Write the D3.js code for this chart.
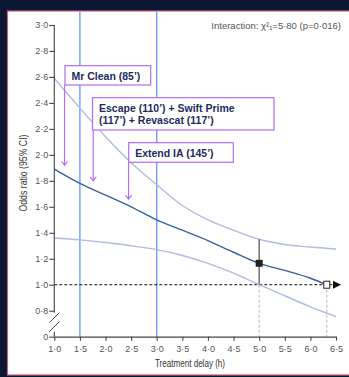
<!DOCTYPE html>
<html>
<head>
<meta charset="utf-8">
<script src="https://cdn.jsdelivr.net/npm/d3@7"></script>
<style>
  body { margin: 0; background: #0b1733; }
  svg { display: block; }
</style>
</head>
<body>
<div id="chart"></div>
<script>
// values
const delays = [1.0, 1.5, 2.0, 2.5, 3.0, 3.5, 4.0, 4.5, 5.0, 5.5, 6.0, 6.5];
const upperCI = [2.59, 2.36, 2.14, 1.94, 1.77, 1.61, 1.50, 1.42, 1.35, 1.31, 1.29, 1.275];
const lowerCI = [1.36, 1.345, 1.325, 1.30, 1.27, 1.225, 1.165, 1.09, 1.00, 0.915, 0.83, 0.755];
const oddsDelays = [1.0, 1.5, 2.0, 2.5, 3.0, 3.5, 4.0, 4.5, 5.0, 5.5, 6.0, 6.32];
const oddsRatio = [1.89, 1.78, 1.69, 1.60, 1.50, 1.42, 1.34, 1.25, 1.165, 1.11, 1.05, 1.0];

const xTicks = [1.0, 1.5, 2.0, 2.5, 3.0, 3.5, 4.0, 4.5, 5.0, 5.5, 6.0, 6.5];
const yTicks = [0, 0.8, 1.0, 1.2, 1.4, 1.6, 1.8, 2.0, 2.2, 2.4, 2.6, 2.8, 3.0];
const trialLines = [1.5, 3.0];

const annotations = [
    { lines: ['Mr Clean (85\u2019)'], t: 1.2, tip: 1.92 },
    { lines: ['Escape (110\u2019) + Swift Prime', '(117\u2019) + Revascat (117\u2019)'], t: 1.76, tip: 1.80 },
    { lines: ['Extend IA (145\u2019)'], t: 2.45, tip: 1.66 }
];
const marker = { t: 5.0, or: 1.165, lo: 1.0, hi: 1.35 };
const crossing = { t: 6.32, or: 1.0 };

const width = 349;
const height = 377;
const fmt = d => d === 0 ? '0' : d3.format('.1f')(d).replace('.', '\u00b7');

const svg = d3.select('#chart')
    .append('svg')
    .attr('width', width)
    .attr('height', height);

// panel
svg.append('rect')
    .attr('x', 7.5).attr('y', 11)
    .attr('width', width).attr('height', 364)
    .attr('fill', '#fff')
    .attr('stroke', '#d0607a')
    .attr('stroke-width', 1.2);

const x = d3.scaleLinear()
    .domain([1, 6.5])
    .range([54.3, 336]);

const y = d3.scaleLinear()
    .domain([0.8, 3.0])
    .range([310.7, 25]);

// axis scale with a break: 0 sits one step below 0.8
const yAxisScale = d3.scaleLinear()
    .domain([0, 0.8, 3.0])
    .range([y(0.6), y(0.8), y(3.0)]);

const axisFont = '"Liberation Sans", Arial, sans-serif';

// trial blue lines
svg.selectAll('.trial')
    .data(trialLines)
    .join('line')
    .attr('x1', d => x(d)).attr('x2', d => x(d))
    .attr('y1', 11.6).attr('y2', yAxisScale(0))
    .attr('stroke', '#5b8cff')
    .attr('stroke-width', 1.2);

// reference line at OR = 1
svg.append('line')
    .attr('x1', x(1)).attr('x2', x(6.5) - 2)
    .attr('y1', y(1)).attr('y2', y(1))
    .attr('stroke', '#111')
    .attr('stroke-width', 1)
    .attr('stroke-dasharray', '3,2');

svg.append('path')
    .attr('d', `M${x(6.5) - 3},${y(1) - 4} L${x(6.5) + 5},${y(1)} L${x(6.5) - 3},${y(1) + 4} Z`)
    .attr('fill', '#111');

// dashed drops to the axis
svg.selectAll('.drop')
    .data([marker.t, crossing.t])
    .join('line')
    .attr('x1', d => x(d)).attr('x2', d => x(d))
    .attr('y1', y(1)).attr('y2', yAxisScale(0))
    .attr('stroke', '#c4c4c4')
    .attr('stroke-width', 1.2)
    .attr('stroke-dasharray', '3,2');

const line = d3.line().curve(d3.curveMonotoneX);

svg.append('path')
    .attr('d', line(delays.map((d, i) => [x(d), y(upperCI[i])])))
    .attr('fill', 'none')
    .attr('stroke', '#aebbe2')
    .attr('stroke-width', 1.4);

svg.append('path')
    .attr('d', line(delays.map((d, i) => [x(d), y(lowerCI[i])])))
    .attr('fill', 'none')
    .attr('stroke', '#aebbe2')
    .attr('stroke-width', 1.4);

svg.append('path')
    .attr('d', line(oddsDelays.map((d, i) => [x(d), y(oddsRatio[i])])))
    .attr('fill', 'none')
    .attr('stroke', '#34609f')
    .attr('stroke-width', 1.4);

// error bar and squares
svg.append('line')
    .attr('x1', x(marker.t)).attr('x2', x(marker.t))
    .attr('y1', y(marker.hi)).attr('y2', y(marker.lo))
    .attr('stroke', '#7a7a7a')
    .attr('stroke-width', 1.6);

svg.append('rect')
    .attr('x', x(marker.t) - 3.5).attr('y', y(marker.or) - 3.5)
    .attr('width', 7).attr('height', 7)
    .attr('fill', '#222');

svg.append('rect')
    .attr('x', x(crossing.t) - 3).attr('y', y(crossing.or) - 3.5)
    .attr('width', 6).attr('height', 7)
    .attr('fill', '#fff')
    .attr('stroke', '#222')
    .attr('stroke-width', 1);

// axes
const xAxis = svg.append('g')
    .attr('transform', `translate(0,${yAxisScale(0)})`)
    .call(d3.axisBottom(x).tickValues(xTicks).tickSize(4).tickSizeOuter(0).tickFormat(fmt));

const yAxis = svg.append('g')
    .attr('transform', `translate(${x(1)},0)`)
    .call(d3.axisLeft(yAxisScale).tickValues(yTicks).tickSize(5).tickSizeOuter(0).tickFormat(fmt));

[xAxis, yAxis].forEach(g => {
    g.selectAll('path, line').attr('stroke', '#444').attr('stroke-width', 1.1);
    g.selectAll('text')
        .attr('fill', '#555')
        .style('font-family', axisFont)
        .style('font-size', '9px');
});
xAxis.selectAll('text').attr('dy', '0.95em');
yAxis.selectAll('text').attr('x', -6);

// axis break
yAxis.select('.domain').remove();
const breakTop = y(0.8) + 2;
const breakBottom = yAxisScale(0) - 5;
yAxis.append('line')
    .attr('x1', 0).attr('x2', 0)
    .attr('y1', y(3.0)).attr('y2', breakTop)
    .attr('stroke', '#444').attr('stroke-width', 1.1);
yAxis.append('line')
    .attr('x1', 0).attr('x2', 0)
    .attr('y1', breakBottom).attr('y2', yAxisScale(0))
    .attr('stroke', '#444').attr('stroke-width', 1.1);
yAxis.selectAll('.slash')
    .data([0, 9])
    .join('line')
    .attr('x1', -5).attr('x2', 5)
    .attr('y1', d => breakTop + 10 + d).attr('y2', d => breakTop + d)
    .attr('stroke', '#444').attr('stroke-width', 1);

// axis titles
svg.append('text')
    .attr('transform', `translate(27,173) rotate(-90)`)
    .attr('text-anchor', 'middle')
    .attr('fill', '#333')
    .attr('textLength', 77)
    .attr('lengthAdjust', 'spacingAndGlyphs')
    .style('font-family', axisFont)
    .style('font-size', '10.5px')
    .text('Odds ratio (95% CI)');

svg.append('text')
    .attr('x', 190).attr('y', 367)
    .attr('text-anchor', 'middle')
    .attr('fill', '#333')
    .attr('textLength', 70)
    .attr('lengthAdjust', 'spacingAndGlyphs')
    .style('font-family', axisFont)
    .style('font-size', '10.5px')
    .text('Treatment delay (h)');

// interaction label
svg.append('text')
    .attr('x', 341).attr('y', 29)
    .attr('text-anchor', 'end')
    .attr('fill', '#555')
    .style('font-family', axisFont)
    .style('font-size', '9.5px')
    .text('Interaction: \u03c7\u00b2\u2081=5\u00b780 (p=0\u00b7016)');

// annotation boxes
const boxes = [
    { left: 65, top: 65.7, right: 150.7, bottom: 85 },
    { left: 92.5, top: 97.7, right: 274, bottom: 130 },
    { left: 128.7, top: 142.7, right: 233.3, bottom: 162.3 }
];

annotations.forEach((a, i) => {
    const b = boxes[i];
    const g = svg.append('g');
    g.append('rect')
        .attr('x', b.left).attr('y', b.top)
        .attr('width', b.right - b.left).attr('height', b.bottom - b.top)
        .attr('fill', '#fff')
        .attr('stroke', '#b36cf2')
        .attr('stroke-width', 1.2);
    a.lines.forEach((t, j) => {
        g.append('text')
            .attr('x', b.left + 6.5)
            .attr('y', b.top + 14.2 + j * 12.5)
            .attr('fill', '#1e2b5e')
            .style('font-family', '"Liberation Sans", Arial, sans-serif')
            .style('font-weight', 'bold')
            .style('font-size', '10.5px')
            .text(t);
    });
    const ax = x(a.t);
    const tipY = y(a.tip);
    g.append('line')
        .attr('x1', ax).attr('x2', ax)
        .attr('y1', b.bottom).attr('y2', tipY)
        .attr('stroke', '#b36cf2')
        .attr('stroke-width', 1.2);
    g.append('path')
        .attr('d', `M${ax - 3},${tipY - 4} L${ax},${tipY} L${ax + 3},${tipY - 4}`)
        .attr('fill', 'none')
        .attr('stroke', '#b36cf2')
        .attr('stroke-width', 1.2);
});
</script>
</body>
</html>
